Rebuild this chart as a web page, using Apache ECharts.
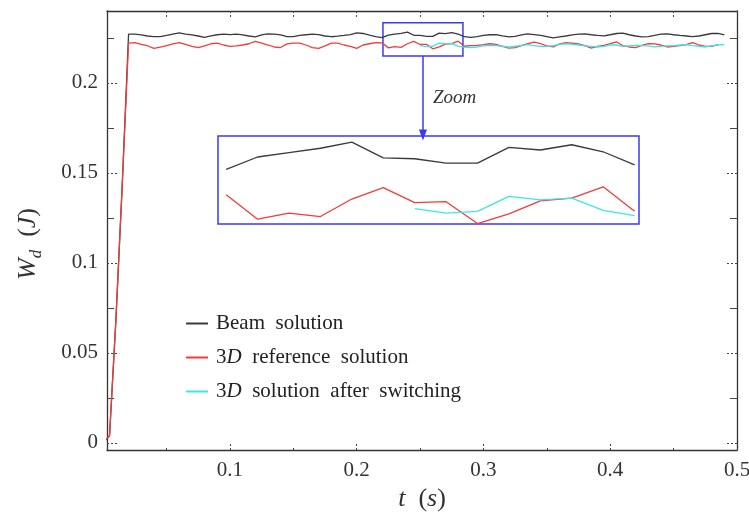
<!DOCTYPE html>
<html><head><meta charset="utf-8">
<script src="https://cdn.jsdelivr.net/npm/echarts@6/dist/echarts.min.js"></script>
<style>html,body{margin:0;padding:0;background:#fff}#c{width:749px;height:521px}</style>
</head><body><div id="c"></div>
<script>
// ---- data ----
const time = [0,0.005,0.01,0.015,0.02,0.025,0.03,0.035,0.04,0.045,0.05,0.055,0.06,0.065,0.07,0.075,0.08,0.085,0.09,0.095,
0.1,0.105,0.11,0.115,0.12,0.125,0.13,0.135,0.14,0.145,0.15,0.155,0.16,0.165,0.17,0.175,0.18,0.185,0.19,0.195,
0.2,0.205,0.21,0.215,0.22,0.225,0.23,0.235,0.24,0.245,0.25,0.255,0.26,0.265,0.27,0.275,0.28,0.285,0.29,0.295,
0.3,0.305,0.31,0.315,0.32,0.325,0.33,0.335,0.34,0.345,0.35,0.355,0.36,0.365,0.37,0.375,0.38,0.385,0.39,0.395,
0.4,0.405,0.41,0.415,0.42,0.425,0.43,0.435,0.44,0.445,0.45,0.455,0.46,0.465,0.47,0.475,0.48,0.485,0.49];

const beam = [0,0.004,0.068,0.143,
0.2271,0.2271,0.2267,0.2261,0.2258,0.2258,0.2264,0.2272,0.2278,0.2272,0.2267,0.2261,0.2254,0.2262,0.2268,0.2272,0.2269,
0.2272,0.2267,0.2261,0.2256,0.2267,0.2273,0.2272,0.2267,0.2258,0.2258,0.2264,0.2268,0.2272,0.2269,0.2261,0.2257,0.2260,0.2264,0.2269,0.2278,0.2275,0.2266,0.2258,
0.2252,0.2266,0.2271,0.2276,0.2283,0.2265,0.2264,0.2259,0.2259,0.2277,0.2274,0.2280,0.2272,0.2257,
0.2253,0.2258,0.2264,0.2268,
0.2269,0.2262,0.2256,0.2259,0.2267,0.2273,0.2269,0.2264,0.2258,0.2251,0.2256,0.2261,0.2267,0.2271,0.2273,0.2268,0.2264,0.2262,0.2268,0.2275,0.2277,
0.2268,0.2261,0.2256,0.2258,0.2264,0.2271,0.2273,0.2268,0.2264,0.2261,0.2257,0.2261,0.2268,0.2275,0.2275,0.2267];

const ref3d = [0,0.004,0.068,0.143,
0.2222,0.2224,0.2214,0.2207,0.2192,0.2199,0.2208,0.2217,0.2224,0.2214,0.2203,0.2196,0.2206,0.2218,0.2222,0.2211,0.2203,
0.2206,0.2211,0.2218,0.2231,0.2221,0.2211,0.2200,0.2197,0.2217,0.2222,0.2222,0.2211,0.2197,0.2192,0.2206,0.2221,0.2222,0.2211,0.2203,0.2192,0.2211,0.2218,0.2224,
0.2223,0.2195,0.2202,0.2198,0.2218,0.2231,0.2214,0.2215,0.2190,0.2201,0.2216,0.2219,0.2232,0.2204,
0.2207,0.2209,0.2213,0.2218,
0.2214,0.2204,0.2194,0.2197,0.2208,0.2218,0.2227,0.2218,0.2206,0.2200,0.2217,0.2224,0.2221,0.2217,0.2208,0.2194,0.2203,0.2209,0.2218,0.2228,0.2208,
0.2200,0.2197,0.2209,0.2218,0.2217,0.2211,0.2200,0.2203,0.2207,0.2213,0.2224,0.2211,0.2203,0.2203,0.2213];

const switchStart = 0.25;
const switched = [0.2207,0.2202,0.2204,0.2221,0.2217,0.2219,0.2205,0.2199,
0.2197,0.2200,0.2206,0.2209,
0.2207,0.2204,0.2200,0.2204,0.2209,0.2213,0.2208,0.2203,0.2203,0.2208,0.2214,0.2218,0.2214,0.2211,0.2206,0.2203,0.2200,0.2203,0.2211,0.2211,0.2203,
0.2206,0.2209,0.2207,0.2206,0.2201,0.2203,0.2206,0.2208,0.2211,0.2213,0.2208,0.2204,0.2200,0.2206,0.2211,0.2213];

const xMajorTicks = [0.1,0.2,0.3,0.4,0.5];
const xMinorTicks = [0.05,0.15,0.25,0.35,0.45];
const xTopTicks = [0.05,0.1,0.15,0.2,0.25,0.3,0.35,0.4,0.45,0.5];
const yMajorTicks = [0,0.05,0.1,0.15,0.2];
const yMinorTicks = [0.025,0.075,0.125,0.175,0.225];
const xRange = [0.003, 0.5];
const yRange = [-0.004, 0.24];
const zoomBox = [0.2207, 0.2838, 0.2150, 0.2335];   // t0, t1, w0, w1
const arrowEnd = 0.1711;
const insetX = [0.2187, 0.2857];
const insetY = [0.21895, 0.2290];

const names = ['Beam solution', '3D reference solution', '3D solution after switching'];
const colors = ['#3a3a3a', '#f03c3c', '#3ce6e6'];

// ---- build ----
const serif = "'Liberation Serif','DejaVu Serif',serif";
const axisCol = '#333';
const blue = '#3a3af2';
const offset = time.indexOf(switchStart);
const pairs = (vals, off) => vals.map((v, i) => [time[i + off], v]);
const data = [pairs(beam, 0), pairs(ref3d, 0), pairs(switched, offset)];
const insetData = data.map(d => d.filter(p => p[0] >= insetX[0] && p[0] <= insetX[1]));

const dotted = {type: [2, 2], color: '#444', width: 1};
const solid = {type: 'solid', color: '#444', width: 1};

function mkSeries(i, xi, yi, d, extra) {
  return Object.assign({
    type: 'line', name: names[i], data: d, xAxisIndex: xi, yAxisIndex: yi,
    showSymbol: false, symbol: 'none', clip: true,
    lineStyle: {color: colors[i], width: 1.3}, itemStyle: {color: colors[i]},
    emphasis: {disabled: true}, z: 3 + i
  }, extra || {});
}

const series = [
  mkSeries(0, 0, 0, data[0], {
    markArea: {silent: true, itemStyle: {color: 'rgba(0,0,0,0)', borderColor: blue, borderWidth: 1.5},
      data: [[{coord: [zoomBox[0], zoomBox[3]]}, {coord: [zoomBox[1], zoomBox[2]]}]]},
    markLine: {silent: true, symbol: ['none', 'triangle'], symbolSize: [8, 11],
      label: {show: false}, lineStyle: {color: blue, width: 1.5, type: 'solid'},
      data: [[{coord: [(zoomBox[0] + zoomBox[1]) / 2, zoomBox[2]]}, {coord: [(zoomBox[0] + zoomBox[1]) / 2, arrowEnd]}]]}
  }),
  mkSeries(1, 0, 0, data[1]),
  mkSeries(2, 0, 0, data[2]),
  mkSeries(0, 3, 4, insetData[0]),
  mkSeries(1, 3, 4, insetData[1]),
  mkSeries(2, 3, 4, insetData[2])
];

const labelStyle = {fontFamily: serif, fontSize: 21, color: '#333'};

const option = {
  animation: false,
  backgroundColor: '#fff',
  grid: [
    {left: 107, right: 12, top: 11, bottom: 71, outerBoundsMode: 'none', containLabel: false},
    {left: 218, top: 136, width: 421, height: 88, show: true, borderColor: blue, borderWidth: 1.5,
     backgroundColor: '#fff', outerBoundsMode: 'none', containLabel: false}
  ],
  xAxis: [
    {type: 'value', gridIndex: 0, position: 'bottom', min: xRange[0], max: xRange[1],
     axisLine: {show: true, onZero: false, lineStyle: {color: axisCol, width: 1.3}},
     axisTick: {show: true, inside: true, length: 8, customValues: xMajorTicks, lineStyle: dotted},
     axisLabel: Object.assign({show: true, margin: 10, customValues: xMajorTicks}, labelStyle),
     splitLine: {show: false},
     name: '{i|t}{n|  (}{i|s}{n|)}', nameLocation: 'middle', nameGap: 30,
     nameTextStyle: {fontFamily: serif, fontSize: 26, color: '#333',
       rich: {i: {fontFamily: serif, fontSize: 26, fontStyle: 'italic', color: '#333'},
              n: {fontFamily: serif, fontSize: 26, color: '#333'}}}},
    {type: 'value', gridIndex: 0, position: 'bottom', min: xRange[0], max: xRange[1],
     axisLine: {show: false, onZero: false},
     axisTick: {show: true, inside: true, length: 4, customValues: xMinorTicks, lineStyle: dotted},
     axisLabel: {show: false}, splitLine: {show: false}},
    {type: 'value', gridIndex: 0, position: 'top', min: xRange[0], max: xRange[1],
     axisLine: {show: true, onZero: false, lineStyle: {color: axisCol, width: 1.3}},
     axisTick: {show: true, inside: true, length: 8, customValues: xTopTicks, lineStyle: dotted},
     axisLabel: {show: false}, splitLine: {show: false}},
    {type: 'value', gridIndex: 1, min: insetX[0], max: insetX[1], show: false, splitLine: {show: false}}
  ],
  yAxis: [
    {type: 'value', gridIndex: 0, position: 'left', min: yRange[0], max: yRange[1],
     axisLine: {show: true, onZero: false, lineStyle: {color: axisCol, width: 1.3}},
     axisTick: {show: true, inside: true, length: 10, customValues: yMajorTicks, lineStyle: dotted},
     axisLabel: Object.assign({show: true, margin: 9, customValues: yMajorTicks}, labelStyle),
     splitLine: {show: false}},
    {type: 'value', gridIndex: 0, position: 'left', min: yRange[0], max: yRange[1],
     axisLine: {show: false, onZero: false},
     axisTick: {show: true, inside: true, length: 7, customValues: yMinorTicks, lineStyle: solid},
     axisLabel: {show: false}, splitLine: {show: false}},
    {type: 'value', gridIndex: 0, position: 'right', min: yRange[0], max: yRange[1],
     axisLine: {show: true, onZero: false, lineStyle: {color: axisCol, width: 1.3}},
     axisTick: {show: true, inside: true, length: 10, customValues: yMajorTicks, lineStyle: dotted},
     axisLabel: {show: false}, splitLine: {show: false}},
    {type: 'value', gridIndex: 0, position: 'right', min: yRange[0], max: yRange[1],
     axisLine: {show: false, onZero: false},
     axisTick: {show: true, inside: true, length: 7, customValues: yMinorTicks, lineStyle: solid},
     axisLabel: {show: false}, splitLine: {show: false}},
    {type: 'value', gridIndex: 1, min: insetY[0], max: insetY[1], show: false, splitLine: {show: false}}
  ],
  legend: {
    data: names, orient: 'vertical', left: 181, top: 308, itemWidth: 22, itemHeight: 2, icon: 'rect',
    itemGap: 13, selectedMode: false,
    textStyle: {fontFamily: serif, fontSize: 21, color: '#222', padding: [0, 0, 0, 3],
      rich: {i: {fontFamily: serif, fontSize: 21, fontStyle: 'italic', color: '#222'},
             n: {fontFamily: serif, fontSize: 21, color: '#222'}}},
    formatter: function (name) {
      if (name === names[0]) return '{n|Beam  solution}';
      if (name === names[1]) return '{n|3}{i|D}{n|  reference  solution}';
      return '{n|3}{i|D}{n|  solution  after  switching}';
    }
  },
  graphic: [
    {type: 'text', left: 433, top: 88, silent: true,
     style: {text: 'Zoom', fontFamily: serif, fontSize: 19, fontStyle: 'italic', fill: '#333'}},
    {type: 'text', x: 28, y: 244, rotation: Math.PI / 2, silent: true,
     style: {text: '{w|W}{d|d}{n|  (}{w|J}{n|)}', align: 'center', verticalAlign: 'middle',
       fontFamily: serif, fontSize: 26, fill: '#333',
       rich: {w: {fontFamily: serif, fontSize: 26, fontStyle: 'italic', fill: '#333', lineHeight: 34, verticalAlign: 'middle'},
              d: {fontFamily: serif, fontSize: 17, fontStyle: 'italic', fill: '#333', lineHeight: 17, verticalAlign: 'bottom'},
              n: {fontFamily: serif, fontSize: 26, fill: '#333', lineHeight: 34, verticalAlign: 'middle'}}}}
  ],
  series: series
};

const chart = echarts.init(document.getElementById('c'), null, {renderer: 'canvas'});
chart.setOption(option);
</script></body></html>
